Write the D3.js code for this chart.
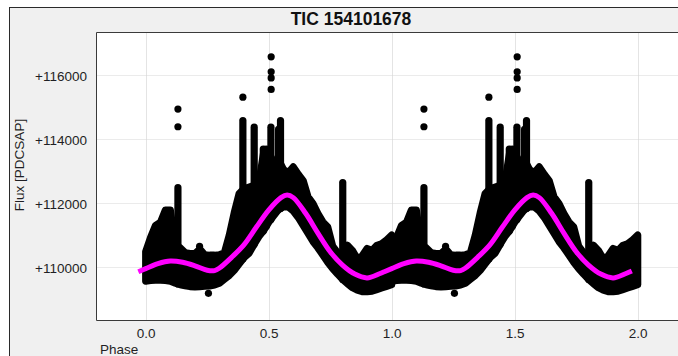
<!DOCTYPE html>
<html><head><meta charset="utf-8">
<script src="https://cdn.jsdelivr.net/npm/d3@7"></script>
<style>
html,body{margin:0;padding:0;background:#fff;overflow:hidden;}
svg{display:block;font-family:"Liberation Sans",Arial,sans-serif;}
</style></head><body>
<svg id="c" width="678" height="356"></svg>
<script>
// ---- text ----
const chartTitle = "TIC 154101678";
const yAxisLabel = "Flux [PDCSAP]";
const xAxisLabel = "Phase";
const xTicks = [0, 0.5, 1.0, 1.5, 2.0];
const xTickLabels = ["0.0", "0.5", "1.0", "1.5", "2.0"];
const yTicks = [110000, 112000, 114000, 116000];
const yTickLabels = ["+110000", "+112000", "+114000", "+116000"];
const cycles = [0, 1]; // folded curve shown over two phases

// ---- dense point cloud (one cycle): phase, upper and lower envelope ----
const bandPhase = [0.00,0.02,0.04,0.06,0.08,0.10,0.12,0.14,0.16,0.18,0.20,0.22,0.24,0.26,0.28,0.30,0.32,0.34,0.36,0.38,0.40,0.42,0.44,0.46,0.48,0.50,0.52,0.54,0.56,0.58,0.60,0.62,0.64,0.66,0.68,0.70,0.72,0.74,0.76,0.78,0.80,0.82,0.84,0.86,0.88,0.90,0.92,0.94,0.96,0.98,1.00];
const bandHigh = [110480,110930,111300,111400,111780,111780,110700,110600,110450,110420,110420,110560,110380,110370,110370,110380,110450,111000,111700,112300,112450,112500,112550,112650,113600,113550,113300,113350,113050,112950,113130,112900,112700,112190,111980,111670,111410,111250,110650,110450,110400,110680,110520,110260,110350,110580,110520,110680,110730,110850,111000];
const bandLow  = [109560,109580,109590,109590,109580,109560,109500,109450,109420,109390,109380,109390,109400,109410,109440,109500,109620,109740,109900,110100,110300,110430,110700,110950,111150,111400,111600,111800,111880,111880,111750,111550,111300,111050,110800,110600,110380,110150,109950,109780,109620,109480,109360,109280,109230,109230,109250,109300,109350,109400,109450];

// ---- flare columns (stacked points) ----
const flarePhase = [0.131, 0.395, 0.441, 0.478, 0.490, 0.509, 0.540, 0.548, 0.801];
const flareTop   = [112480, 114580, 114370, 113690, 113690, 114370, 114300, 114580, 112640];

// ---- isolated points ----
const outlierPhase = [0.131, 0.131, 0.395, 0.510, 0.510, 0.510, 0.510, 0.255, 0.219];
const outlierFlux  = [114937, 114385, 115310, 116570, 116104, 115910, 115552, 109178, 110650];

// ---- fitted model curve (one cycle) ----
const fitPhase = [-0.03,0.00,0.05,0.10,0.15,0.20,0.25,0.28,0.30,0.35,0.40,0.45,0.50,0.55,0.575,0.60,0.65,0.70,0.75,0.80,0.85,0.90,0.95];
const fitFlux  = [109855,109950,110110,110190,110150,110040,109900,109890,109970,110310,110700,111250,111780,112170,112250,112170,111680,111060,110480,110060,109780,109660,109790];
const fitEndPhase = 1.976, fitEndFlux = 109875;

// ---- layout ----
const W = 678, H = 356;
const plot = {x: 96.5, y: 32.5, w: 590.4, h: 288};
const svg = d3.select("#c");

svg.append("rect").attr("x", 9.5).attr("y", 7.5).attr("width", W + 20).attr("height", H + 20)
  .attr("fill", "#f0f0f0").attr("stroke", "#2a2a2a").attr("stroke-width", 1);

const x = d3.scaleLinear().domain([-0.2, 2.2]).range([plot.x, plot.x + plot.w]);
const y = d3.scaleLinear().domain([108330, 117330]).range([plot.y + plot.h, plot.y]);

svg.append("rect").attr("x", plot.x).attr("y", plot.y).attr("width", plot.w + 20).attr("height", plot.h)
  .attr("fill", "#fff");

const defs = svg.append("defs");
defs.append("clipPath").attr("id", "clip").append("rect")
  .attr("x", plot.x).attr("y", plot.y).attr("width", plot.w).attr("height", plot.h);

// grid
const grid = svg.append("g");
grid.selectAll(".vg").data(xTicks).join("line")
  .attr("x1", d => Math.round(x(d)) + 0.5).attr("x2", d => Math.round(x(d)) + 0.5)
  .attr("y1", plot.y).attr("y2", plot.y + plot.h)
  .attr("stroke", "#e4e4e4").attr("stroke-width", 1);
grid.selectAll(".hg").data(yTicks).join("line")
  .attr("x1", plot.x).attr("x2", plot.x + plot.w)
  .attr("y1", d => Math.round(y(d)) + 0.5).attr("y2", d => Math.round(y(d)) + 0.5)
  .attr("stroke", "#d6d6d6").attr("stroke-width", 1).attr("stroke-dasharray", "1,1");

const g = svg.append("g").attr("clip-path", "url(#clip)");
const R = 3.6;

// dense cloud
const bandData = bandPhase.map((p, i) => ({p, hi: bandHigh[i], lo: bandLow[i]}));
const area = d3.area().x(d => x(d.p)).y0(d => y(d.lo)).y1(d => y(d.hi));
cycles.forEach(k => {
  g.append("path").datum(bandData.map(d => ({p: d.p + k, hi: d.hi, lo: d.lo})))
    .attr("d", area).attr("fill", "#000").attr("stroke", "#000")
    .attr("stroke-width", 2 * R).attr("stroke-linejoin", "round");
});

// flare columns
const lowAt = d3.scaleLinear().domain(bandPhase).range(bandLow);
cycles.forEach(k => {
  g.selectAll(null).data(flarePhase.map((p, i) => ({p, top: flareTop[i]}))).join("line")
    .attr("x1", d => x(d.p + k)).attr("x2", d => x(d.p + k))
    .attr("y1", d => y(d.top)).attr("y2", d => y(lowAt(d.p)))
    .attr("stroke", "#000").attr("stroke-width", 2 * R).attr("stroke-linecap", "round");
});

// isolated points
cycles.forEach(k => {
  g.selectAll(null).data(outlierPhase.map((p, i) => ({p, f: outlierFlux[i]}))).join("circle")
    .attr("cx", d => x(d.p + k)).attr("cy", d => y(d.f)).attr("r", R).attr("fill", "#000");
});

// fit
let fitPts = [];
cycles.forEach(k => fitPhase.forEach((p, i) => fitPts.push([p + k, fitFlux[i]])));
fitPts.push([fitEndPhase, fitEndFlux]);
g.append("path").datum(fitPts)
  .attr("d", d3.line().x(d => x(d[0])).y(d => y(d[1])).curve(d3.curveCatmullRom.alpha(0.5)))
  .attr("fill", "none").attr("stroke", "#ff00ff").attr("stroke-width", 5)
  .attr("stroke-linecap", "butt");

// plot border
svg.append("path")
  .attr("d", `M${W + 5},${plot.y}H${plot.x}V${plot.y + plot.h}H${W + 5}`)
  .attr("fill", "none").attr("stroke", "#3a3a3a").attr("stroke-width", 1);

// tick labels
const txt = "#1f1f24";
svg.selectAll(".yl").data(yTicks).join("text")
  .attr("x", 87).attr("y", d => y(d) + 5.5).attr("text-anchor", "end")
  .attr("font-size", 13.5).attr("fill", txt).text((d, i) => yTickLabels[i]);
svg.selectAll(".xl").data(xTicks).join("text")
  .attr("x", d => x(d) + 0.5).attr("y", 338).attr("text-anchor", "middle")
  .attr("font-size", 13.5).attr("fill", txt).text((d, i) => xTickLabels[i]);

svg.append("text").attr("x", 100).attr("y", 354).attr("font-size", 13.5).attr("fill", txt).text(xAxisLabel);
svg.append("text").attr("transform", "translate(24,165) rotate(-90)").attr("text-anchor", "middle")
  .attr("font-size", 13.5).attr("fill", txt).text(yAxisLabel);
svg.append("text").attr("x", 351).attr("y", 25).attr("text-anchor", "middle")
  .attr("font-size", 17.5).attr("font-weight", "bold").attr("fill", "#111").text(chartTitle);
</script>
</body></html>
